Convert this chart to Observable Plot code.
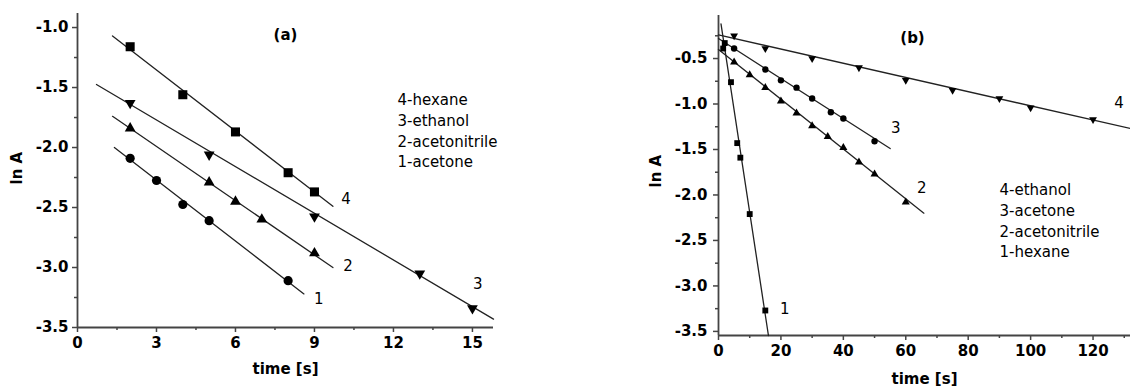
<!DOCTYPE html>
<html><head><meta charset="utf-8">
<script src="https://cdn.jsdelivr.net/npm/d3@7"></script>
<script src="https://cdn.jsdelivr.net/npm/@observablehq/plot@0.6"></script>
<style>
body{margin:0;background:#fff;}
#wrap{position:relative;width:1130px;height:392px;overflow:hidden;background:#fff;}
#pa,#pb{position:absolute;top:0;}
#pa{left:0px} #pb{left:570px}
</style></head><body><div id="wrap"><div id="pa"></div><div id="pb"></div></div>
<script>
// ---------- Panel (a) data ----------
const aTag = "(a)";
const aLegend = ["4-hexane", "3-ethanol", "2-acetonitrile", "1-acetone"];
const aXTicks = [0, 3, 6, 9, 12, 15];
const aXMinor = [1.5, 4.5, 7.5, 10.5, 13.5];
const aYTicks = [-1.0, -1.5, -2.0, -2.5, -3.0, -3.5];
const aYMinor = [-1.25, -1.75, -2.25, -2.75, -3.25];
// series 4 hexane (squares)
const aHexT = [2, 4, 6, 8, 9];
const aHexV = [-1.16, -1.56, -1.87, -2.21, -2.37];
const aHexFitT = [1.33, 9.7];
const aHexFitV = [-1.07, -2.49];
// series 3 ethanol (down triangles)
const aEthT = [2, 5, 9, 13, 15];
const aEthV = [-1.63, -2.06, -2.575, -3.05, -3.34];
const aEthFitT = [0.72, 15.8];
const aEthFitV = [-1.475, -3.43];
// series 2 acetonitrile (up triangles)
const aAcnT = [2, 5, 6, 7, 9];
const aAcnV = [-1.84, -2.29, -2.45, -2.6, -2.88];
const aAcnFitT = [1.33, 9.7];
const aAcnFitV = [-1.74, -3.0];
// series 1 acetone (circles)
const aAceT = [2, 3, 4, 5, 8];
const aAceV = [-2.09, -2.275, -2.475, -2.61, -3.11];
const aAceFitT = [1.4, 8.6];
const aAceFitV = [-2.0, -3.22];
// curve labels
const aLabText = ["4", "3", "2", "1"];
const aLabT = [10.2, 15.2, 10.27, 9.16];
const aLabV = [-2.43, -3.14, -2.99, -3.26];

// ---------- Panel (b) data ----------
const bTag = "(b)";
const bLegend = ["4-ethanol", "3-acetone", "2-acetonitrile", "1-hexane"];
const bXTicks = [0, 20, 40, 60, 80, 100, 120];
const bXMinor = [10, 30, 50, 70, 90, 110, 130];
const bYTicks = [-0.5, -1.0, -1.5, -2.0, -2.5, -3.0, -3.5];
const bYMinor = [-0.25, -0.75, -1.25, -1.75, -2.25, -2.75, -3.25];
// series 4 ethanol (down triangles)
const bEthT = [5, 15, 30, 45, 60, 75, 90, 100, 120];
const bEthV = [-0.25, -0.39, -0.5, -0.6, -0.74, -0.85, -0.94, -1.04, -1.17];
const bEthFitT = [0, 132];
const bEthFitV = [-0.24, -1.27];
// series 3 acetone (circles)
const bAceT = [5, 15, 20, 25, 30, 36, 40, 50];
const bAceV = [-0.39, -0.62, -0.74, -0.82, -0.94, -1.09, -1.16, -1.41];
const bAceFitT = [0, 55];
const bAceFitV = [-0.28, -1.49];
// series 2 acetonitrile (up triangles)
const bAcnT = [5, 10, 15, 20, 25, 30, 35, 40, 45, 50, 60];
const bAcnV = [-0.54, -0.68, -0.82, -0.97, -1.1, -1.24, -1.36, -1.48, -1.64, -1.77, -2.08];
const bAcnFitT = [0, 65.8];
const bAcnFitV = [-0.40, -2.2];
// series 1 hexane (squares)
const bHexT = [2, 1.5, 4, 6, 7, 10, 15];
const bHexV = [-0.33, -0.39, -0.76, -1.43, -1.59, -2.21, -3.27];
const bHexFitT = [0.8, 16];
const bHexFitV = [-0.12, -3.545];
// curve labels
const bLabText = ["4", "3", "2", "1"];
const bLabT = [128.3, 56.8, 65.1, 21.2];
const bLabV = [-0.995, -1.27, -1.92, -3.26];

// ---------- helpers ----------
const rows = (s, t, v) => t.map((x, i) => ({s, t: x, v: v[i]}));
const triDown = {
  draw(ctx, size) {
    const y = -Math.sqrt(size / (3 * Math.sqrt(3)));
    ctx.moveTo(0, -2 * y);
    ctx.lineTo(Math.sqrt(3) * y, y);
    ctx.lineTo(-Math.sqrt(3) * y, y);
    ctx.closePath();
  }
};
const FONT = "DejaVu Sans";
const AX = "#444";
const LN = "#222";

function axes(xt, xm, yt, ym, xPad, yPad) {
  return [
    Plot.axisX({ticks: xt, tickSize: 5, tickPadding: xPad, stroke: AX, strokeWidth: 1.5,
      fontWeight: "bold", fontSize: 15, tickFormat: d => String(d), label: null}),
    Plot.axisX({ticks: xm, tickSize: 3, stroke: AX, strokeWidth: 1.5, tickFormat: () => "", label: null}),
    Plot.axisY({ticks: yt, tickSize: 5, tickPadding: yPad, stroke: AX, strokeWidth: 1.5,
      fontWeight: "bold", fontSize: 15, tickFormat: d => d.toFixed(1), label: null}),
    Plot.axisY({ticks: ym, tickSize: 3, stroke: AX, strokeWidth: 1.5, tickFormat: () => "", label: null})
  ];
}

// ---------- Panel (a) ----------
const aPts = [
  ...rows("4", aHexT, aHexV), ...rows("3", aEthT, aEthV),
  ...rows("2", aAcnT, aAcnV), ...rows("1", aAceT, aAceV)];
const aFit = [
  ...rows("4", aHexFitT, aHexFitV), ...rows("3", aEthFitT, aEthFitV),
  ...rows("2", aAcnFitT, aAcnFitV), ...rows("1", aAceFitT, aAceFitV)];
const aLabs = aLabText.map((l, i) => ({l, t: aLabT[i], v: aLabV[i]}));

const plotA = Plot.plot({
  width: 560, height: 392,
  marginLeft: 77, marginRight: 67, marginTop: 13, marginBottom: 65,
  x: {domain: [0, 15.8]},
  y: {domain: [-3.5, -0.883]},
  style: {fontFamily: FONT, fontSize: "15px", color: "#000", background: "transparent"},
  marks: [
    ...axes(aXTicks, aXMinor, aYTicks, aYMinor, 5, 4),
    Plot.ruleX([0], {stroke: AX, strokeWidth: 1.8}),
    Plot.ruleY([-3.5], {stroke: AX, strokeWidth: 1.8}),
    Plot.line(aFit, {x: "t", y: "v", z: "s", stroke: LN, strokeWidth: 1.3}),
    Plot.dot(aPts.filter(d => d.s === "4"), {x: "t", y: "v", symbol: "square", r: 5.1, fill: "#000", stroke: "none"}),
    Plot.dot(aPts.filter(d => d.s === "3"), {x: "t", y: "v", symbol: triDown, r: 4.0, fill: "#000", stroke: "none"}),
    Plot.dot(aPts.filter(d => d.s === "2"), {x: "t", y: "v", symbol: "triangle", r: 4.0, fill: "#000", stroke: "none"}),
    Plot.dot(aPts.filter(d => d.s === "1"), {x: "t", y: "v", symbol: "circle", r: 4.6, fill: "#000", stroke: "none"}),
    Plot.text(aLabs, {x: "t", y: "v", text: "l", fontSize: 15, fill: "#000"}),
    Plot.text([aTag], {frameAnchor: "top-left", dx: 208, dy: 22, fontWeight: "bold", fontSize: 15, lineAnchor: "middle", textAnchor: "middle"}),
    Plot.text([aLegend.join("\n")], {frameAnchor: "top-left", dx: 320, dy: 77, textAnchor: "start", lineAnchor: "top", lineHeight: 1.38, fontSize: 15}),
    Plot.text(["time [s]"], {frameAnchor: "bottom", dy: 46, fontWeight: "bold", fontSize: 15}),
    Plot.text(["ln A"], {frameAnchor: "left", dx: -60, dy: 14, rotate: -90, fontWeight: "bold", fontSize: 15})
  ]
});
document.getElementById("pa").appendChild(plotA);

// ---------- Panel (b) ----------
const bPts = [
  ...rows("4", bEthT, bEthV), ...rows("3", bAceT, bAceV),
  ...rows("2", bAcnT, bAcnV), ...rows("1", bHexT, bHexV)];
const bFit = [
  ...rows("4", bEthFitT, bEthFitV), ...rows("3", bAceFitT, bAceFitV),
  ...rows("2", bAcnFitT, bAcnFitV), ...rows("1", bHexFitT, bHexFitV)];
const bLabs = bLabText.map((l, i) => ({l, t: bLabT[i], v: bLabV[i]}));

const plotB = Plot.plot({
  width: 560, height: 392,
  marginLeft: 148, marginRight: 0, marginTop: 15, marginBottom: 57,
  x: {domain: [0, 132]},
  y: {domain: [-3.545, -0.027]},
  style: {fontFamily: FONT, fontSize: "15px", color: "#000", background: "transparent", overflow: "visible"},
  marks: [
    ...axes(bXTicks, bXMinor, bYTicks, bYMinor, 5, 6),
    Plot.ruleX([0], {stroke: AX, strokeWidth: 1.8}),
    Plot.ruleY([-3.545], {stroke: AX, strokeWidth: 1.8}),
    Plot.line(bFit, {x: "t", y: "v", z: "s", stroke: LN, strokeWidth: 1.3}),
    Plot.dot(bPts.filter(d => d.s === "4"), {x: "t", y: "v", symbol: triDown, r: 2.9, fill: "#000", stroke: "none"}),
    Plot.dot(bPts.filter(d => d.s === "3"), {x: "t", y: "v", symbol: "circle", r: 3.2, fill: "#000", stroke: "none"}),
    Plot.dot(bPts.filter(d => d.s === "2"), {x: "t", y: "v", symbol: "triangle", r: 3.0, fill: "#000", stroke: "none"}),
    Plot.dot(bPts.filter(d => d.s === "1"), {x: "t", y: "v", symbol: "square", r: 3.3, fill: "#000", stroke: "none"}),
    Plot.text(bLabs, {x: "t", y: "v", text: "l", fontSize: 15, fill: "#000"}),
    Plot.text([bTag], {frameAnchor: "top-left", dx: 194, dy: 23, fontWeight: "bold", fontSize: 15, lineAnchor: "middle", textAnchor: "middle"}),
    Plot.text([bLegend.join("\n")], {frameAnchor: "top-left", dx: 281, dy: 165, textAnchor: "start", lineAnchor: "top", lineHeight: 1.38, fontSize: 15}),
    Plot.text(["time [s]"], {frameAnchor: "bottom", dy: 48, fontWeight: "bold", fontSize: 15}),
    Plot.text(["ln A"], {frameAnchor: "left", dx: -62, dy: 12, rotate: -90, fontWeight: "bold", fontSize: 15})
  ]
});
document.getElementById("pb").appendChild(plotB);
</script></body></html>
